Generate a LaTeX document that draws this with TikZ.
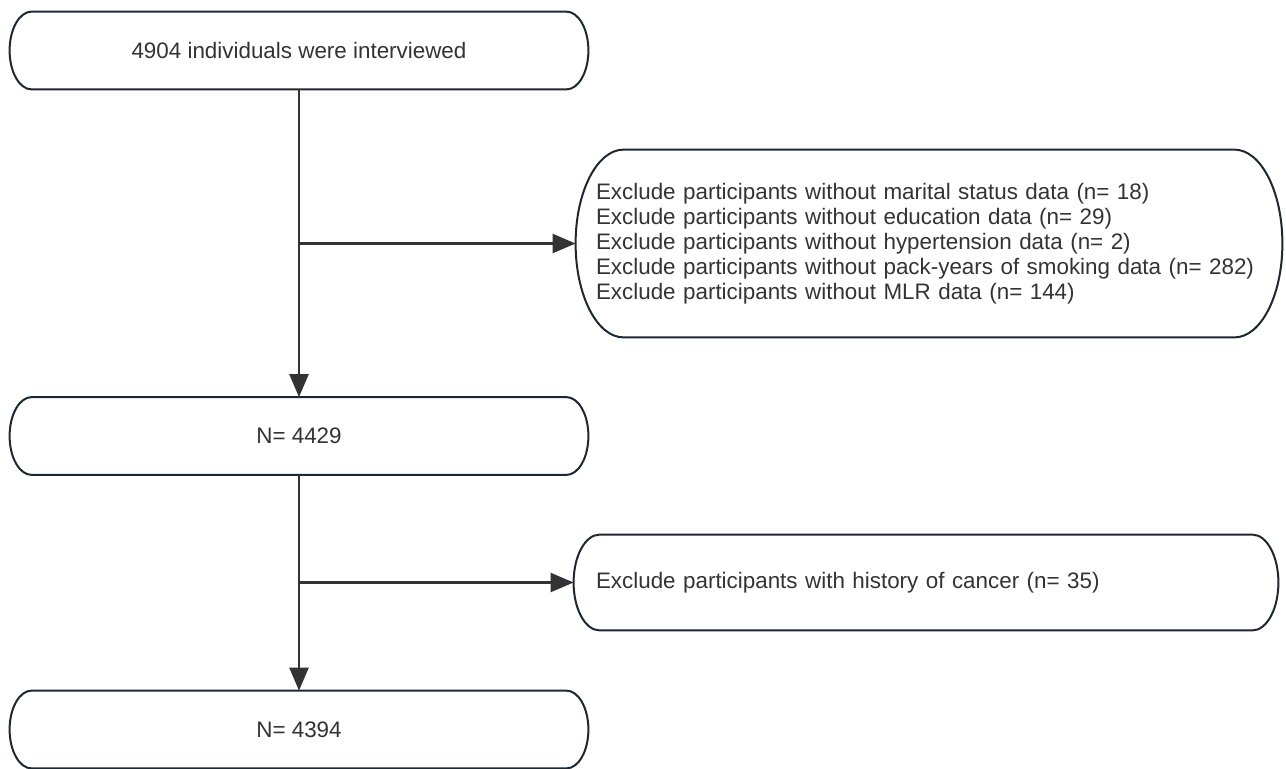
\documentclass[tikz,border=0pt]{standalone}
\usepackage{fontspec}
\setmainfont{Liberation Sans}
\usetikzlibrary{
    arrows.meta,
    calc
}

\definecolor{linegray}{HTML}{333333}
\definecolor{boxedge}{HTML}{1E2832}

% outline with elliptic ends round a named node: #1 node, #2 end radius
\newcommand{\capsule}[2]{%
    \draw[outline] let \p1=(#1.north west), \p2=(#1.south east),
        \n1={0.5*(\y1-\y2)} in
        ([xshift=#2]#1.north west) -- ([xshift=-#2]#1.north east)
        arc[start angle=90, end angle=-90, x radius=#2, y radius=\n1]
        -- ([xshift=#2]#1.south west)
        arc[start angle=270, end angle=90, x radius=#2, y radius=\n1]
        -- cycle;}

\begin{document}
\begin{tikzpicture}[
    x=0.5pt, y=-0.5pt,
    every node/.style={font=\fontsize{11.2pt}{12.5pt}\selectfont, text=linegray},
    stage/.style={rectangle, minimum width=289pt, minimum height=38.5pt, align=center, inner sep=0pt},
    exclude/.style={rectangle, inner xsep=10pt, inner ysep=0pt, align=left},
    outline/.style={draw=boxedge, line width=1pt},
    arrow/.style={draw=linegray, line width=1.2pt, -{Triangle[length=11.5pt, width=9.5pt]}}
]
\useasboundingbox (0,0) rectangle (1286,768);

\node[stage] (interviewed) at (299,50.5) {4904 individuals were interviewed};
\node[stage] (kept1) at (299,436) {N= 4429};
\node[stage] (kept2) at (299,729.5) {N= 4394};

\node[exclude, text width=333pt, minimum height=93.5pt] (excl_missing) at (929,243.5)
    {Exclude participants without marital status data (n= 18)\\
     Exclude participants without education data (n= 29)\\
     Exclude participants without hypertension data (n= 2)\\
     Exclude participants without pack-years of smoking data (n= 282)\\
     Exclude participants without MLR data (n= 144)};
\node[exclude, inner xsep=11pt, text width=330pt, minimum height=47.5pt] (excl_cancer) at (926,582.5)
    {Exclude participants with history of cancer (n= 35)};

\capsule{interviewed}{11pt}
\capsule{kept1}{11pt}
\capsule{kept2}{11pt}
\capsule{excl_missing}{24pt}
\capsule{excl_cancer}{13pt}

\coordinate (branch1) at (interviewed.south |- excl_missing.west);
\coordinate (branch2) at (kept1.south |- excl_cancer.west);

\draw[arrow] (interviewed.south) -- (kept1.north);
\draw[arrow] (branch1) -- (excl_missing.west);
\draw[arrow] (kept1.south) -- (kept2.north);
\draw[arrow] (branch2) -- (excl_cancer.west);

\end{tikzpicture}
\end{document}
